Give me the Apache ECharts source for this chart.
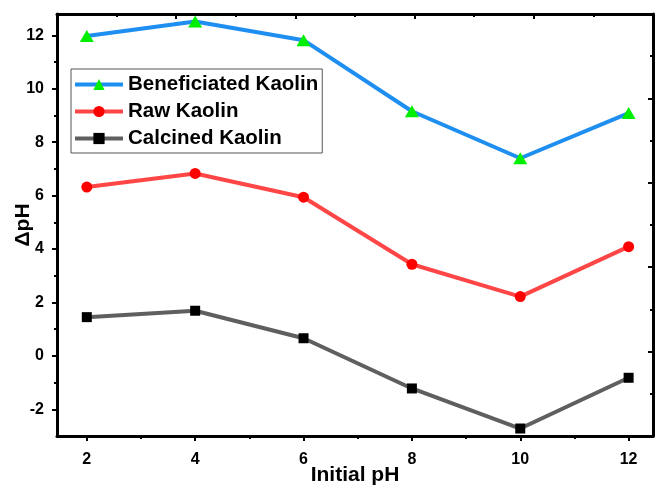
<!DOCTYPE html>
<html>
<head>
<meta charset="utf-8">
<script src="https://cdn.jsdelivr.net/npm/echarts@6/dist/echarts.min.js"></script>
<style>
  html, body { margin: 0; padding: 0; background: #fff; }
  #chart { width: 657px; height: 485px; }
</style>
</head>
<body>
<div id="chart"></div>
<script>
// Initial pH values (x) and measured ΔpH for each kaolin sample
const initialPH = [2, 4, 6, 8, 10, 12];
const beneficiated = [11.98, 12.52, 11.82, 9.16, 7.40, 9.09];
const raw = [6.32, 6.83, 5.94, 3.43, 2.22, 4.09];
const calcined = [1.45, 1.69, 0.66, -1.22, -2.72, -0.82];

// Tick positions
const xMajor = [2, 4, 6, 8, 10, 12];
const xMinor = [3, 5, 7, 9, 11];
const yMajor = [-2, 0, 2, 4, 6, 8, 10, 12];
const yMinor = [-1, 1, 3, 5, 7, 9, 11];

const FONT = 'Liberation Sans, Arial, sans-serif';
const pairs = (ys) => initialPH.map((x, i) => [x, ys[i]]);

const chart = echarts.init(document.getElementById('chart'), null, { renderer: 'canvas' });

const X_MIN = 1.45, X_MAX = 12.45, Y_MIN = -3, Y_MAX = 12.8;
const frameLine = { show: true, onZero: false, lineStyle: { color: '#000', width: 3 } };

chart.setOption({
  animation: false,
  backgroundColor: '#ffffff',
  grid: { left: 57, right: 4, top: 14, bottom: 49, containLabel: false, outerBoundsMode: 'none' },
  legend: {
    left: 71, top: 69,
    orient: 'vertical',
    itemWidth: 48, itemHeight: 14, itemGap: 6,
    padding: [5, 4, 4, 2],
    borderColor: '#555', borderWidth: 1,
    lineStyle: { width: 4 },
    textStyle: { fontFamily: FONT, fontWeight: 'bold', fontSize: 20.5, color: '#000' },
    data: ['Beneficiated Kaolin', 'Raw Kaolin', 'Calcined Kaolin']
  },
  xAxis: [
    {
      type: 'value', position: 'bottom', min: X_MIN, max: X_MAX,
      name: 'Initial pH', nameLocation: 'middle', nameGap: 29, nameMoveOverlap: false,
      nameTextStyle: { fontFamily: FONT, fontWeight: 'bold', fontSize: 21, color: '#000' },
      axisLine: frameLine,
      axisTick: { show: true, customValues: xMajor, length: 5, lineStyle: { width: 2, color: '#000' } },
      axisLabel: { customValues: xMajor, margin: 16, fontFamily: FONT, fontWeight: 'bold', fontSize: 16, color: '#000' },
      splitLine: { show: false }
    },
    {
      type: 'value', position: 'bottom', min: X_MIN, max: X_MAX,
      axisLine: { show: false, onZero: false },
      axisTick: { show: true, customValues: xMinor, length: 3, lineStyle: { width: 2, color: '#000' } },
      axisLabel: { show: false },
      splitLine: { show: false }
    },
    {
      type: 'value', position: 'top', min: 0, max: 5, interval: 1,
      axisLine: frameLine,
      axisTick: { show: true, inside: true, length: 5, lineStyle: { width: 2, color: '#000' } },
      minorTick: { show: true, splitNumber: 2, length: 3, lineStyle: { width: 2, color: '#000' } },
      axisLabel: { show: false },
      splitLine: { show: false }
    }
  ],
  yAxis: [
    {
      type: 'value', position: 'left', min: Y_MIN, max: Y_MAX,
      name: 'ΔpH', nameLocation: 'middle', nameGap: 23, nameRotate: 90, nameMoveOverlap: false,
      nameTextStyle: { fontFamily: FONT, fontWeight: 'bold', fontSize: 21, color: '#000' },
      axisLine: frameLine,
      axisTick: { show: true, customValues: yMajor, length: 5, lineStyle: { width: 2, color: '#000' } },
      axisLabel: { customValues: yMajor, margin: 13, fontFamily: FONT, fontWeight: 'bold', fontSize: 16, color: '#000' },
      splitLine: { show: false }
    },
    {
      type: 'value', position: 'left', min: Y_MIN, max: Y_MAX,
      axisLine: { show: false, onZero: false },
      axisTick: { show: true, customValues: yMinor, length: 3, lineStyle: { width: 2, color: '#000' } },
      axisLabel: { show: false },
      splitLine: { show: false }
    },
    {
      type: 'value', position: 'right', min: 0, max: 5, interval: 1,
      axisLine: frameLine,
      axisTick: { show: true, inside: true, length: 5, lineStyle: { width: 2, color: '#000' } },
      minorTick: { show: true, splitNumber: 2, length: 3, lineStyle: { width: 2, color: '#000' } },
      axisLabel: { show: false },
      splitLine: { show: false }
    }
  ],
  series: [
    {
      name: 'Beneficiated Kaolin', type: 'line', xAxisIndex: 0, yAxisIndex: 0,
      data: pairs(beneficiated),
      symbol: 'triangle', symbolSize: [14, 12],
      lineStyle: { color: '#1e8ff0', width: 4 },
      itemStyle: { color: '#00ee00', borderWidth: 0 },
      z: 5
    },
    {
      name: 'Raw Kaolin', type: 'line', xAxisIndex: 0, yAxisIndex: 0,
      data: pairs(raw),
      symbol: 'circle', symbolSize: 11,
      lineStyle: { color: '#ff4646', width: 4 },
      itemStyle: { color: '#ff0000', borderWidth: 0 },
      z: 4
    },
    {
      name: 'Calcined Kaolin', type: 'line', xAxisIndex: 0, yAxisIndex: 0,
      data: pairs(calcined),
      symbol: 'rect', symbolSize: 10,
      lineStyle: { color: '#5f5f5f', width: 4 },
      itemStyle: { color: '#000000', borderWidth: 0 },
      z: 3
    }
  ]
});
</script>
</body>
</html>
